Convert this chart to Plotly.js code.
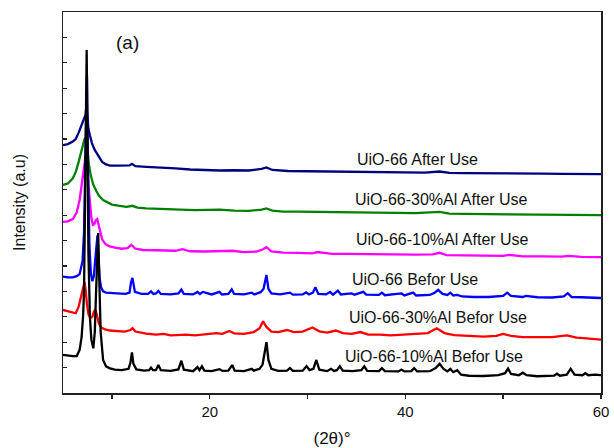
<!DOCTYPE html>
<html>
<head>
<meta charset="utf-8">
<script src="https://cdn.plot.ly/plotly-3.0.1.min.js"></script>
<style>html,body{margin:0;padding:0;background:#fff;}#chart{width:614px;height:448px;}</style>
</head>
<body>
<div id="chart"></div>
<script>
// ---- Data (2θ in degrees, intensity in stacked arbitrary units) ----
const seriesNames = [
  "UiO-66-10%Al Befor Use", "UiO-66-30%Al Befor Use", "UiO-66 Befor Use",
  "UiO-66-10%Al After Use", "UiO-66-30%Al After Use", "UiO-66 After Use"
];

const bk_x = [5,5.5,6,6.4,6.7,6.9,7.05,7.15,7.25,7.33,7.42,7.5,7.6,7.75,7.9,8.1,8.25,8.4,8.5,8.6,8.7,8.85,9.1,9.4,9.8,10.3,11.0,11.7,11.9,12.05,12.2,12.5,13.3,13.8,14.0,14.2,14.5,14.75,15.0,16.0,16.8,17.1,17.35,18.3,18.75,18.95,19.2,19.45,20.2,21.0,21.3,21.9,22.3,22.55,23.5,24.3,24.5,25.1,25.4,25.6,25.8,26.0,26.3,27.0,27.9,28.2,28.5,29.5,29.9,30.2,30.6,30.9,31.2,32.0,32.4,32.7,33.0,33.3,33.6,34.6,35.5,35.8,36.1,37.3,37.6,37.9,39.3,39.6,39.9,40.6,40.9,41.2,42.5,43.1,43.5,43.9,44.3,44.6,44.9,45.3,45.7,46.5,48.0,49.5,50.2,50.5,50.8,51.6,52.0,52.4,53.5,55.2,55.5,55.8,56.5,56.9,57.3,58.1,58.4,58.7,59.4,60];
const bk_y = [1.50,1.47,1.45,1.45,1.7,2.2,3.0,4.0,7.0,10.5,13.5,10.0,5.5,3.0,2.1,1.76,2.4,4.2,5.8,6.3,4.6,2.4,1.3,1.05,0.97,0.92,0.9,0.95,1.2,1.6,1.15,0.93,0.88,0.9,1.0,0.9,0.9,1.1,0.9,0.87,0.93,1.27,0.92,0.86,1.02,0.9,1.05,0.88,0.86,0.94,0.87,0.88,1.1,0.88,0.86,0.95,0.88,0.95,1.12,1.5,2.0,1.3,0.95,0.87,0.88,0.98,0.87,0.88,1.06,0.9,0.95,1.3,0.92,0.86,0.95,0.87,0.9,1.05,0.88,0.86,0.9,1.05,0.87,0.86,0.98,0.86,0.85,0.92,0.85,0.86,0.98,0.85,0.86,0.98,1.15,0.95,0.85,0.95,0.82,0.9,0.72,0.68,0.67,0.7,0.78,0.96,0.75,0.7,0.8,0.7,0.66,0.68,0.76,0.68,0.72,0.95,0.72,0.7,0.78,0.7,0.72,0.7];

const rd_x = [5,5.5,6.0,6.3,6.6,6.85,7.0,7.1,7.2,7.3,7.45,7.6,7.8,8.0,8.15,8.3,8.45,8.65,8.9,9.3,9.8,10.5,11.3,11.9,12.1,12.4,13.5,14.5,15.3,16.0,17.0,17.6,18.5,19.5,20.7,21.3,22.0,22.5,23.5,24.5,25.1,25.45,25.8,26.3,27.0,27.9,28.6,29.5,30.5,31.2,32.0,32.9,33.6,34.5,35.4,36.2,37.4,38.5,40.0,41.0,42.3,43.2,44.0,45.0,46.5,48.0,49.3,50.0,50.8,52.0,53.5,55.0,56.5,57.5,58.5,59.3,60];
const rd_y = [3.27,3.22,3.14,3.14,3.4,3.75,3.95,4.2,4.35,4.1,3.5,3.1,2.95,3.0,3.2,3.28,3.1,2.75,2.58,2.5,2.46,2.43,2.42,2.48,2.55,2.42,2.34,2.3,2.33,2.27,2.28,2.3,2.27,2.32,2.36,2.33,2.44,2.35,2.33,2.4,2.55,2.82,2.6,2.42,2.4,2.48,2.4,2.42,2.58,2.43,2.38,2.46,2.36,2.33,2.4,2.3,2.3,2.27,2.3,2.33,2.36,2.55,2.36,2.28,2.24,2.22,2.25,2.33,2.25,2.2,2.2,2.2,2.27,2.18,2.15,2.13,2.1];

const bl_x = [5,5.5,6.0,6.4,6.7,7.0,7.15,7.27,7.36,7.45,7.55,7.7,7.85,8.0,8.15,8.3,8.42,8.52,8.62,8.75,8.9,9.1,9.4,9.8,10.5,11.4,11.8,11.95,12.1,12.35,13.0,13.7,14.0,14.25,14.5,14.75,15.0,16.0,16.8,17.1,17.35,18.3,18.75,19.0,19.3,20.2,21.0,21.25,21.9,22.25,22.5,23.5,24.3,24.55,25.2,25.5,25.65,25.8,26.0,26.3,27.2,28.2,28.5,29.5,29.85,30.15,30.55,30.8,31.1,31.9,32.3,32.6,33.1,33.4,34.5,34.8,35.7,36.0,37.3,37.6,37.9,39.6,39.9,40.8,41.1,42.5,43.0,43.35,43.8,44.3,44.6,44.9,45.3,45.8,47.0,48.5,50.0,50.4,50.8,52.0,52.3,53.5,55.0,56.2,56.6,57.0,58.0,59.0,60];
const bl_y = [4.58,4.55,4.55,4.6,4.68,5.2,6.3,8.6,11.0,12.5,9.0,5.8,4.7,4.4,4.6,5.3,6.0,6.2,5.4,4.5,4.15,4.0,3.95,3.93,3.92,3.9,3.95,4.35,4.53,3.98,3.9,3.9,4.0,3.9,3.92,4.02,3.9,3.88,3.92,4.07,3.9,3.88,3.98,3.9,3.98,3.88,3.98,3.88,3.9,4.08,3.9,3.88,3.95,3.88,3.97,4.1,4.4,4.65,4.1,3.92,3.88,3.95,3.87,3.88,3.96,3.88,3.95,4.16,3.9,3.88,3.98,3.87,4.03,3.88,3.92,3.87,3.98,3.87,3.86,3.95,3.85,3.92,3.84,3.95,3.84,3.86,3.95,4.06,3.9,3.86,3.95,3.84,3.86,3.8,3.78,3.78,3.82,3.95,3.82,3.78,3.82,3.77,3.76,3.8,3.93,3.78,3.77,3.75,3.74];

const mg_x = [5,5.5,6.0,6.4,6.7,6.95,7.1,7.2,7.3,7.4,7.5,7.6,7.75,7.9,8.05,8.2,8.35,8.5,8.65,8.8,9.0,9.3,9.7,10.3,11.0,11.6,12.0,12.4,13.2,14.5,15.5,16.5,17.2,18.0,19.5,21.0,22.3,23.5,24.8,25.4,25.8,26.3,27.5,29.0,30.5,31.0,32.5,34.0,35.5,37.0,39.0,41.0,42.8,43.5,44.2,46.0,48.0,50.0,50.6,52.0,54.0,56.0,56.7,58.0,60];
const mg_y = [6.74,6.76,6.85,7.1,7.6,8.3,8.8,9.1,9.3,9.35,9.0,8.2,7.4,6.9,6.62,6.65,6.8,6.85,6.6,6.3,6.05,5.88,5.78,5.72,5.68,5.7,5.83,5.68,5.63,5.62,5.6,5.6,5.66,5.58,5.57,5.58,5.6,5.55,5.57,5.65,5.74,5.58,5.53,5.52,5.5,5.55,5.48,5.48,5.47,5.46,5.45,5.45,5.46,5.52,5.43,5.42,5.4,5.4,5.44,5.38,5.38,5.37,5.4,5.36,5.35];

const gr_x = [5,5.5,6.0,6.3,6.6,6.85,7.05,7.2,7.3,7.4,7.5,7.65,7.85,8.1,8.4,8.7,9.1,9.5,10.0,10.8,11.5,12.1,12.6,13.5,14.9,16.0,17.0,18.5,20.0,21.0,22.5,24.0,25.3,25.8,26.4,27.5,29.0,31.0,33.0,35.0,37.0,39.0,41.0,43.5,44.5,46.0,48.0,50.0,52.0,54.0,56.0,58.0,60];
const gr_y = [8.19,8.25,8.45,8.7,9.1,9.5,9.8,10.0,10.04,9.95,9.6,9.0,8.55,8.2,7.95,7.75,7.6,7.52,7.42,7.37,7.33,7.37,7.3,7.27,7.26,7.24,7.22,7.2,7.2,7.22,7.18,7.17,7.22,7.27,7.18,7.14,7.14,7.13,7.12,7.1,7.1,7.08,7.08,7.13,7.06,7.05,7.04,7.04,7.03,7.02,7.02,7.0,7.0];

const nv_x = [5,5.5,6.0,6.3,6.6,6.85,7.05,7.2,7.3,7.4,7.5,7.6,7.75,7.95,8.2,8.45,8.7,9.0,9.4,9.8,10.5,11.3,11.8,12.05,12.4,13.5,14.9,16.5,18.0,19.5,21.0,22.5,24.0,25.3,25.8,26.4,28.0,30.0,32.0,34.0,36.0,38.0,40.0,42.0,43.5,44.5,46.0,48.0,50.0,52.0,54.0,56.0,58.0,60];
const nv_y = [9.76,9.8,9.9,10.0,10.25,10.5,10.7,10.8,10.95,11.3,10.7,10.4,10.15,9.85,9.6,9.45,9.25,9.1,9.0,8.95,8.95,8.94,8.96,9.02,8.93,8.9,8.88,8.84,8.8,8.78,8.76,8.77,8.76,8.82,8.88,8.78,8.74,8.73,8.72,8.7,8.7,8.69,8.68,8.68,8.72,8.67,8.66,8.66,8.65,8.65,8.64,8.63,8.63,8.62];

const xTickVals = [10,20,30,40,50,60];
const xTickText = ["","20","","40","","60"];

// ---- Chart ----
const colors = ["#000000","#ff0000","#0000ff","#ff00ff","#008000","#000080"];
const xs = [bk_x, rd_x, bl_x, mg_x, gr_x, nv_x];
const ys = [bk_y, rd_y, bl_y, mg_y, gr_y, nv_y];

const order = [5,4,3,2,1,0]; // draw navy first, black last (on top)
const traces = order.map(i => ({
  type: "scatter", mode: "lines", name: seriesNames[i],
  x: xs[i], y: ys[i],
  line: {color: colors[i], width: 2.3},
  showlegend: false, hoverinfo: "skip"
}));

const font = "Arial, 'Liberation Sans', sans-serif";
const labelPos = [
  [0.520, 0.097], [0.528, 0.199], [0.533, 0.299],
  [0.541, 0.402], [0.539, 0.509], [0.543, 0.614]
];
const annotations = seriesNames.map((s, i) => ({
  text: s, xref: "paper", yref: "paper",
  x: labelPos[i][0], y: labelPos[i][1], xanchor: "left", yanchor: "middle",
  showarrow: false, font: {family: font, size: 16, color: "#111"}
}));
annotations.push({
  text: "(a)", xref: "paper", yref: "paper", x: 0.12, y: 0.921,
  xanchor: "center", yanchor: "middle", showarrow: false,
  font: {family: font, size: 19, color: "#111"}
});

const layout = {
  width: 614, height: 448,
  margin: {l: 63, r: 13, t: 12, b: 55},
  paper_bgcolor: "#fff", plot_bgcolor: "#fff",
  font: {family: font, color: "#111"},
  xaxis: {
    range: [5, 60], tickmode: "array", tickvals: xTickVals, ticktext: xTickText,
    ticks: "outside", ticklen: 4, tickwidth: 1.5, tickcolor: "#222",
    showline: true, linecolor: "#222", linewidth: 1.5, mirror: true,
    showgrid: false, zeroline: false,
    tickfont: {family: font, size: 15, color: "#111"},
    title: {text: "(2\u03b8)\u00b0", font: {family: font, size: 17, color: "#111"}, standoff: 14}
  },
  yaxis: {
    range: [0, 15], dtick: 1, tick0: 0,
    ticks: "inside", ticklen: 4, tickwidth: 1.2, tickcolor: "#222",
    showticklabels: false,
    showline: true, linecolor: "#222", linewidth: 1.5, mirror: true,
    showgrid: false, zeroline: false,
    title: {text: "Intensity (a.u)", font: {family: font, size: 16, color: "#111"}, standoff: 32}
  },
  annotations: annotations
};

Plotly.newPlot("chart", traces, layout, {displayModeBar: false, staticPlot: true});
</script>
</body>
</html>
